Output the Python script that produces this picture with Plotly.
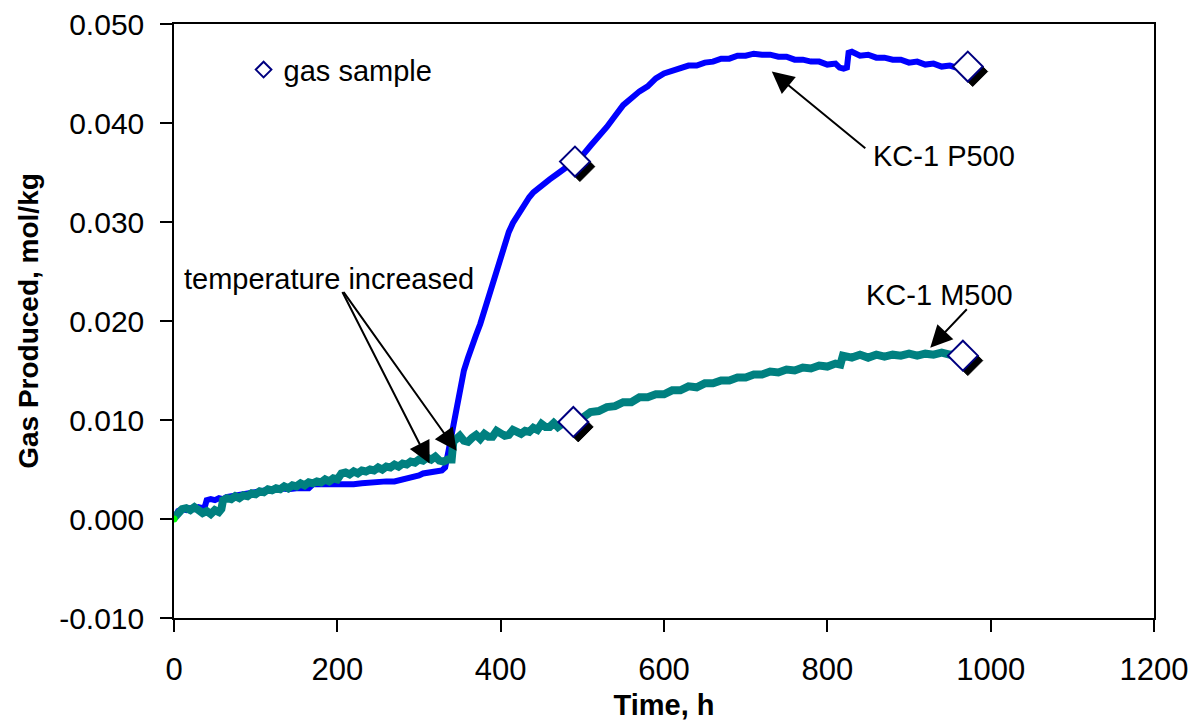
import plotly.graph_objects as go

# KC-1 P500 (blue) - time h / gas produced mol/kg
p500_time = [0, 5, 10, 15, 20, 25, 30, 35, 38, 40, 45, 50, 55, 60, 64, 70, 80, 90, 100, 110,
             120, 130, 140, 150, 160, 165, 170, 180, 190, 200, 210, 220, 230, 240, 250, 260,
             270, 280, 290, 300, 305, 310, 315, 320, 328, 332, 336, 340, 345, 350, 355, 360,
             365, 370, 375, 380, 385, 390, 395, 400, 405, 410, 415, 420, 425, 430, 435, 440,
             450, 460, 470, 480, 490, 500, 510, 520, 530, 540, 550, 560, 570, 580, 590, 600,
             610, 620, 630, 640, 650, 660, 670, 680, 690, 700, 710, 720, 730, 740, 750, 760,
             770, 780, 790, 800, 810, 815, 820, 824, 826, 830, 840, 850, 860, 870, 880, 890,
             900, 910, 920, 930, 940, 950, 958]
p500_gas = [0.0000, 0.0008, 0.0010, 0.0009, 0.0011, 0.0010, 0.0012, 0.0011, 0.0013, 0.0019, 0.0020, 0.0019, 0.0021, 0.0020, 0.0022, 0.0023, 0.0024, 0.0026, 0.0027, 0.0029,
            0.0030, 0.0031, 0.0030, 0.0031, 0.0032, 0.0031, 0.0035, 0.0035, 0.0034, 0.0034, 0.0035, 0.0035, 0.0036, 0.0037, 0.0037, 0.0038,
            0.0038, 0.0040, 0.0041, 0.0044, 0.0046, 0.0047, 0.0047, 0.0048, 0.0049, 0.0052, 0.0068, 0.0085, 0.0110, 0.0133, 0.0150, 0.0163,
            0.0176, 0.0186, 0.0197, 0.0210, 0.0222, 0.0238, 0.0250, 0.0264, 0.0278, 0.0290, 0.0299, 0.0306, 0.0313, 0.0319, 0.0325, 0.0330,
            0.0337, 0.0343, 0.0349, 0.0355, 0.0360, 0.0367, 0.0377, 0.0386, 0.0396, 0.0407, 0.0418, 0.0425, 0.0432, 0.0437, 0.0445, 0.0450,
            0.0453, 0.0455, 0.0458, 0.0458, 0.0461, 0.0462, 0.0465, 0.0465, 0.0468, 0.0468, 0.0470, 0.0469, 0.0469, 0.0467, 0.0467, 0.0464,
            0.0464, 0.0462, 0.0462, 0.0459, 0.0460, 0.0456, 0.0455, 0.0456, 0.0471, 0.0472, 0.0468, 0.0469, 0.0466, 0.0466, 0.0464, 0.0464,
            0.0461, 0.0462, 0.0459, 0.0460, 0.0457, 0.0458, 0.0456]

# KC-1 M500 (teal)
m500_time = [0, 5, 10, 15, 20, 25, 30, 35, 40, 45, 50, 55, 58, 60, 65, 70, 75, 80, 85, 90,
             95, 100, 105, 110, 115, 120, 125, 130, 135, 140, 145, 150, 155, 160, 165, 170,
             175, 180, 185, 190, 195, 200, 205, 210, 215, 220, 225, 230, 235, 240, 245, 250,
             255, 260, 265, 270, 275, 280, 285, 290, 295, 300, 305, 310, 315, 320, 325, 330,
             335, 340, 342, 346, 350, 355, 360, 365, 370, 375, 380, 385, 390, 395, 400, 405,
             410, 415, 420, 425, 430, 435, 440, 445, 450, 455, 460, 465, 470, 475, 480, 490,
             500, 510, 520, 530, 540, 550, 560, 570, 580, 590, 600, 610, 620, 630, 640, 650,
             660, 670, 680, 690, 700, 710, 720, 730, 740, 750, 760, 770, 780, 790, 800, 810,
             816, 819, 830, 840, 850, 860, 870, 880, 890, 900, 910, 920, 930, 940, 950, 960]
m500_gas = [0.0001, 0.0007, 0.0010, 0.0011, 0.0009, 0.0012, 0.0010, 0.0006, 0.0008, 0.0005, 0.0009, 0.0007, 0.0010, 0.0019, 0.0021, 0.0020, 0.0023, 0.0021, 0.0024, 0.0023,
            0.0026, 0.0025, 0.0028, 0.0027, 0.0030, 0.0029, 0.0031, 0.0030, 0.0033, 0.0031, 0.0034, 0.0033, 0.0036, 0.0034, 0.0037, 0.0036,
            0.0038, 0.0037, 0.0040, 0.0038, 0.0041, 0.0040, 0.0046, 0.0047, 0.0045, 0.0048, 0.0046, 0.0049, 0.0048, 0.0050, 0.0049, 0.0052,
            0.0050, 0.0053, 0.0052, 0.0055, 0.0053, 0.0056, 0.0055, 0.0058, 0.0057, 0.0060, 0.0059, 0.0062, 0.0060, 0.0063, 0.0059, 0.0058,
            0.0060, 0.0060, 0.0078, 0.0082, 0.0084, 0.0079, 0.0078, 0.0082, 0.0085, 0.0081, 0.0086, 0.0083, 0.0083, 0.0089, 0.0087, 0.0084,
            0.0085, 0.0090, 0.0088, 0.0086, 0.0089, 0.0088, 0.0092, 0.0090, 0.0096, 0.0093, 0.0093, 0.0097, 0.0093, 0.0096, 0.0096, 0.0098,
            0.0102, 0.0108, 0.0109, 0.0113, 0.0114, 0.0118, 0.0118, 0.0123, 0.0123, 0.0126, 0.0126, 0.0130, 0.0130, 0.0134, 0.0133, 0.0137,
            0.0137, 0.0140, 0.0140, 0.0143, 0.0143, 0.0146, 0.0146, 0.0149, 0.0148, 0.0151, 0.0150, 0.0153, 0.0152, 0.0155, 0.0154, 0.0157,
            0.0156, 0.0165, 0.0163, 0.0166, 0.0163, 0.0166, 0.0164, 0.0166, 0.0165, 0.0167, 0.0165, 0.0167, 0.0166, 0.0168, 0.0166, 0.0167]

# gas samples (diamonds)
sample_time = [491, 972, 489, 966]
sample_gas = [0.0361, 0.0457, 0.0098, 0.0165]

y_ticks = [-0.010, 0.000, 0.010, 0.020, 0.030, 0.040, 0.050]
y_tick_labels = ["-0.010", "0.000", "0.010", "0.020", "0.030", "0.040", "0.050"]

FONT = "Liberation Sans, Arial, sans-serif"

fig = go.Figure()

fig.add_trace(go.Scatter(x=p500_time, y=p500_gas, mode="lines", name="KC-1 P500",
                         line=dict(color="#0000FF", width=6), showlegend=False))
fig.add_trace(go.Scatter(x=m500_time, y=m500_gas, mode="lines", name="KC-1 M500",
                         line=dict(color="#008080", width=8), showlegend=False))
fig.add_trace(go.Scatter(x=[0], y=[0], mode="markers", marker=dict(color="#00FF00", size=7),
                         showlegend=False))

# ombre noire des losanges (décalée vers le bas à droite)
fig.add_trace(go.Scatter(x=[t + 6 for t in sample_time], y=[g - 0.0005 for g in sample_gas],
                         mode="markers", showlegend=False, hoverinfo="skip",
                         marker=dict(symbol="diamond", size=23, color="black",
                                     line=dict(color="black", width=1))))
fig.add_trace(go.Scatter(x=sample_time, y=sample_gas, mode="markers", name="gas sample",
                         marker=dict(symbol="diamond", size=23, color="white",
                                     line=dict(color="#000080", width=2))))

arrow = dict(showarrow=True, arrowhead=2, arrowsize=2.2, arrowwidth=2, arrowcolor="black",
             text="", xref="x", yref="y", axref="pixel", ayref="pixel")
fig.add_annotation(x=313, y=0.0056, ax=-88, ay=-173, **arrow)
fig.add_annotation(x=346, y=0.0069, ax=-114, ay=-160, **arrow)
fig.add_annotation(x=732, y=0.0452, ax=95, ay=78, **arrow)
fig.add_annotation(x=926, y=0.0173, ax=38, ay=-40, **arrow)

txt = dict(showarrow=False, xref="x", yref="y", font=dict(family=FONT, size=29, color="black"))
fig.add_annotation(x=190, y=0.0242, text="temperature increased", **txt)
fig.add_annotation(x=943, y=0.0367, text="KC-1 P500", **txt)
fig.add_annotation(x=937, y=0.0226, text="KC-1 M500", **txt)

# la page ajoute une marge de 8 px autour du graphique : on la compense ici
fig.update_layout(
    width=1196, height=724,
    margin=dict(l=166, r=50, t=16, b=114),
    paper_bgcolor="white", plot_bgcolor="white",
    font=dict(family=FONT, size=30, color="black"),
    showlegend=True,
    legend=dict(x=0.071, y=0.923, xanchor="left", yanchor="middle", bgcolor="rgba(0,0,0,0)",
                itemsizing="constant", font=dict(size=29)),
)
fig.update_xaxes(range=[0, 1200], dtick=200, ticks="outside", ticklen=12, tickwidth=1.5,
                 tickcolor="black", showline=True, linecolor="black", linewidth=1.5, mirror=True,
                 showgrid=False, zeroline=False, tickfont=dict(size=31), automargin=False,
                 ticklabelstandoff=11, ticklabeloverflow="allow",
                 title=dict(text="<b>Time, h</b>", font=dict(size=29), standoff=9))
fig.update_yaxes(range=[-0.010, 0.050], tickvals=y_ticks, ticktext=y_tick_labels, ticks="outside",
                 ticklen=12, tickwidth=1.5, tickcolor="black", showline=True, linecolor="black",
                 linewidth=1.5, mirror=True, showgrid=False, zeroline=False, tickfont=dict(size=30),
                 automargin=False, ticklabelstandoff=10, ticklabeloverflow="allow",
                 title=dict(text="<b>Gas Produced, mol/kg</b>", font=dict(size=28), standoff=12))

fig.write_html("out.html")
